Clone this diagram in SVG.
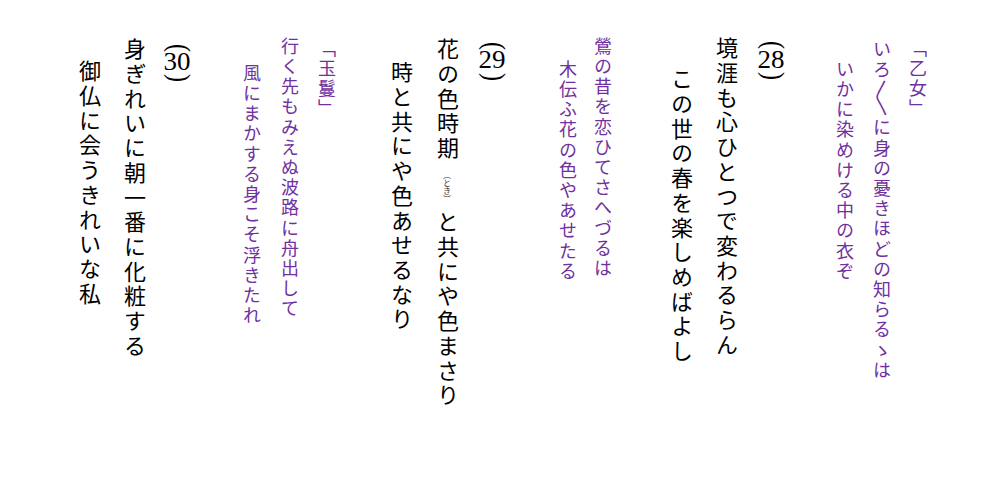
<svg xmlns="http://www.w3.org/2000/svg" width="1000" height="485" viewBox="0 0 1000 485">
<style>
.v{writing-mode:vertical-rl;font-family:"Noto Sans CJK JP","Noto Sans CJK SC",sans-serif}
.p{fill:#7030a0;font-size:18px;letter-spacing:2.2px}
.b{fill:#000;font-size:22px;letter-spacing:2.7px}
.r{fill:#333;font-size:8px}
.n{font-family:"Liberation Serif",serif;font-size:25px;fill:#000;text-anchor:middle}
.pr{font-family:"Liberation Serif",serif;font-size:24px;fill:#000;text-anchor:middle}
</style>
<rect width="1000" height="485" fill="#fff"/>
<g id="otome">
<text class="v p" x="918" y="39">「乙女」</text>
<text class="v p" x="882" y="40">いろ〳〵に身の憂きほどの知らるゝは</text>
<text class="v p" x="845" y="60">いかに染めける中の衣ぞ</text>
</g>
<g id="n28">
<text class="pr" transform="translate(771,45) rotate(90) scale(1,1.25)" y="5.8">(</text>
<text class="n" x="771" y="68" textLength="27" lengthAdjust="spacingAndGlyphs">28</text>
<text class="pr" transform="translate(771,76) rotate(90) scale(1,1.25)" y="5.8">)</text>
<text class="v b" x="727" y="37">境涯も心ひとつで変わるらん</text>
<text class="v b" x="682" y="68">この世の春を楽しめばよし</text>
</g>
<g id="uguisu">
<text class="v p" x="603" y="37">鶯の昔を恋ひてさへづるは</text>
<text class="v p" x="568" y="60">木伝ふ花の色やあせたる</text>
</g>
<g id="n29">
<text class="pr" transform="translate(492,46) rotate(90) scale(1,1.25)" y="5.8">(</text>
<text class="n" x="492" y="68" textLength="27" lengthAdjust="spacingAndGlyphs">29</text>
<text class="pr" transform="translate(492,77) rotate(90) scale(1,1.25)" y="5.8">)</text>
<text class="v b" x="448" y="38">花の色時期</text>
<text class="v r" x="447" y="171">（とき）</text>
<text class="v b" x="448" y="211">と共にや色まさり</text>
<text class="v b" x="402" y="61">時と共にや色あせるなり</text>
</g>
<g id="tamakazura">
<text class="v p" x="327" y="39">「玉鬘」</text>
<text class="v p" x="290" y="37">行く先もみえぬ波路に舟出して</text>
<text class="v p" x="252" y="64">風にまかする身こそ浮きたれ</text>
</g>
<g id="n30">
<text class="pr" transform="translate(177,48) rotate(90) scale(1,1.25)" y="5.8">(</text>
<text class="n" x="177" y="70" textLength="27" lengthAdjust="spacingAndGlyphs">30</text>
<text class="pr" transform="translate(177,78) rotate(90) scale(1,1.25)" y="5.8">)</text>
<text class="v b" x="135" y="38">身ぎれいに朝一番に化粧する</text>
<text class="v b" x="90" y="60">御仏に会うきれいな私</text>
</g>
<g id="connectors"/>
</svg>
